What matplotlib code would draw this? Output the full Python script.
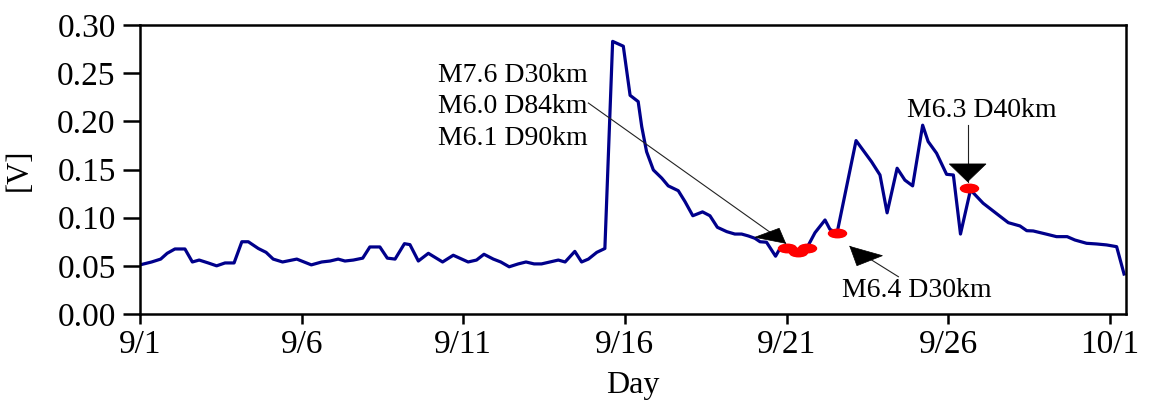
import numpy as np
import matplotlib
matplotlib.use("Agg")
import matplotlib.pyplot as plt
from matplotlib.path import Path
from matplotlib.patches import Polygon
from matplotlib.transforms import Affine2D, IdentityTransform

plt.rcParams['font.family'] = ['Liberation Serif', 'DejaVu Serif']

# Elapsed time in days since 9/1 00:00 and the measured voltage
day = [0.00, 0.36, 0.64, 0.84, 1.08, 1.39, 1.62, 1.83, 2.11, 2.37, 2.63, 2.91,
       3.15, 3.35, 3.66, 3.90, 4.12, 4.41, 4.85, 5.30, 5.62, 5.88, 6.13, 6.34,
       6.60, 6.89, 7.11, 7.42, 7.65, 7.89, 8.18, 8.35, 8.61, 8.92, 9.36, 9.69,
       10.15, 10.41, 10.64, 10.93, 11.16, 11.42, 11.70, 11.94, 12.19, 12.42,
       12.68, 12.94, 13.15, 13.45, 13.66, 13.87, 14.13, 14.38, 14.62, 14.95,
       15.16, 15.41, 15.52, 15.67, 15.88, 16.14, 16.34, 16.65, 16.86, 17.10,
       17.40, 17.63, 17.86, 18.15, 18.40, 18.61, 18.82, 19.02, 19.18, 19.38,
       19.66, 19.77, 20.00, 20.36, 20.62, 20.88, 21.19, 21.34, 21.56, 22.15,
       22.63, 22.89, 23.11, 23.42, 23.66, 23.90, 24.21, 24.38, 24.64, 24.95,
       25.16, 25.38, 25.69, 26.08, 26.55, 26.86, 27.22, 27.43, 27.63, 28.05,
       28.35, 28.68, 28.92, 29.28, 29.59, 29.90, 30.21, 30.44]
volt = [0.051, 0.054, 0.057, 0.063, 0.0675, 0.0675, 0.054, 0.056, 0.053, 0.050,
        0.053, 0.053, 0.075, 0.075, 0.068, 0.064, 0.057, 0.054, 0.057, 0.051,
        0.054, 0.055, 0.057, 0.055, 0.056, 0.058, 0.0696, 0.0696, 0.058, 0.057,
        0.073, 0.072, 0.055, 0.063, 0.054, 0.061, 0.054, 0.056, 0.062, 0.057,
        0.054, 0.049, 0.052, 0.054, 0.052, 0.052, 0.054, 0.056, 0.054, 0.065,
        0.054, 0.057, 0.064, 0.068, 0.283, 0.278, 0.227, 0.2205, 0.1945, 0.1685,
        0.1495, 0.141, 0.133, 0.128, 0.1166, 0.102, 0.106, 0.102, 0.090, 0.0855,
        0.083, 0.083, 0.081, 0.0786, 0.075, 0.0745, 0.060, 0.0665, 0.068, 0.0647,
        0.068, 0.0844, 0.0976, 0.088, 0.0838, 0.180, 0.158, 0.1443, 0.105, 0.1513,
        0.139, 0.133, 0.196, 0.179, 0.1669, 0.145, 0.1443, 0.083, 0.1288, 0.115,
        0.1028, 0.0948, 0.0914, 0.0865, 0.0862, 0.0828, 0.0803, 0.0803, 0.0768,
        0.0734, 0.0727, 0.0717, 0.0699, 0.0415]

# Earthquake times and the voltage at those times
quake_day = [20.00, 20.36, 20.62, 21.56, 25.64]
quake_volt = [0.068, 0.0647, 0.068, 0.0838, 0.1305]

tick_days = [0, 5, 10, 15, 20, 25, 30]
tick_labels = ['9/1', '9/6', '9/11', '9/16', '9/21', '9/26', '10/1']
y_ticks = [0.00, 0.05, 0.10, 0.15, 0.20, 0.25, 0.30]

DPI = 100
fig = plt.figure(figsize=(11.49, 4.04), dpi=DPI)
ax = fig.add_axes([140 / 1149, 1 - 314 / 404, (1126 - 140) / 1149, (314 - 25) / 404])

ax.plot(day, volt, color='#00008b', lw=2.3, zorder=2)

ellipse = Path.unit_circle().transformed(Affine2D().scale(1.0, 0.47))
ax.plot(quake_day, quake_volt, ls='none', marker=ellipse, ms=13,
        color='#ff0000', mec='#ff0000', zorder=3)

ax.set_xlim(0, 30.5)
ax.set_ylim(0, 0.30)
ax.set_xticks(tick_days)
ax.set_xticklabels(tick_labels)
ax.set_yticks(y_ticks)
ax.set_yticklabels([f'{v:.2f}' for v in y_ticks])

for s in ax.spines.values():
    s.set_linewidth(1.8)
ax.tick_params(axis='y', direction='out', length=12.5, width=1.8, pad=5, labelsize=24)
ax.tick_params(axis='x', direction='out', length=7, width=1.8, pad=4, labelsize=24)
ax.set_ylabel('[V]', fontsize=22, labelpad=17)
ax.set_xlabel('Day', fontsize=23, labelpad=8)


def pointer(tail, tip, corner_a, corner_b):
    """Thin line from tail to tip ending in a filled head; the head's two back
    corners are given as pixel offsets (right, up) from the tip."""
    p1 = ax.transData.transform(tip)
    ax.plot([tail[0], tip[0]], [tail[1], tip[1]], color='#222222', lw=0.8,
            clip_on=False, zorder=4)
    tri = np.array([p1, p1 + np.asarray(corner_a), p1 + np.asarray(corner_b)])
    ax.add_patch(Polygon(tri, closed=True, facecolor='black', edgecolor='black',
                         lw=0.5, transform=IdentityTransform(), clip_on=False,
                         zorder=5))


ax.text(9.22, 0.215, 'M7.6 D30km\nM6.0 D84km\nM6.1 D90km', fontsize=20,
        ha='left', va='center', linespacing=1.35)
pointer((13.87, 0.219), (19.97, 0.0734), (-30.7, 6.0), (-6.4, 15.0))

ax.text(21.71, 0.0245, 'M6.4 D30km', fontsize=20, ha='left', va='center')
pointer((23.46, 0.0387), (21.96, 0.0701), (32.5, -9.2), (7.0, -19.2))

ax.text(23.72, 0.211, 'M6.3 D40km', fontsize=20, ha='left', va='center')
pointer((25.6, 0.1963), (25.6, 0.1374), (-18.3, 17.7), (18.4, 17.7))

fig.savefig('out.png', dpi=DPI)
